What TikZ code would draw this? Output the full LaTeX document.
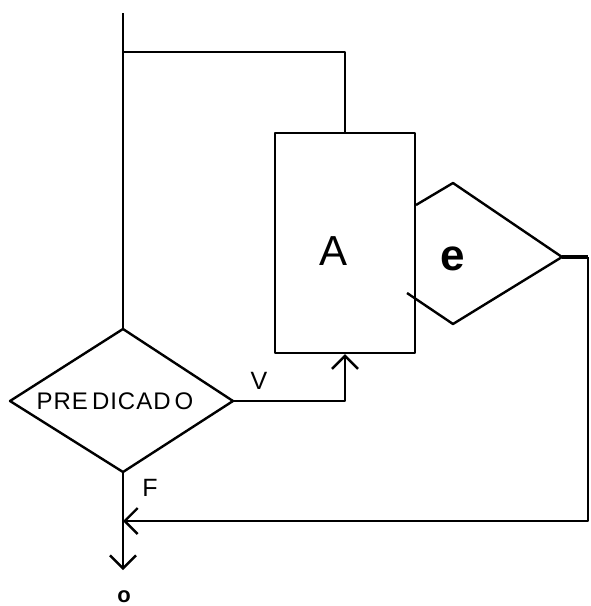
\documentclass[tikz,border=0pt]{standalone}
\usepackage{fontspec}
\setmainfont{Liberation Sans}
\usetikzlibrary{arrows.meta}
\tikzset{
  ln/.style={line width=2.4pt, line join=round},
  barb/.style={-{Straight Barb[length=13pt,width=26pt,line width=2.4pt]}},
  lbl/.style={inner sep=0pt, font=\fontsize{25}{26}\selectfont},
  procbox/.style={draw, ln, rectangle, minimum width=140pt, minimum height=220pt, inner sep=0pt}
}
\begin{document}
\begin{tikzpicture}[x=1pt,y=-1pt]
\useasboundingbox (0,0) rectangle (590,606);
% box A
\node[procbox] (boxA) at (345,243) {};
\node[lbl, font=\fontsize{42}{42}\selectfont] (labA) at (334,251) {A};
% predicate diamond
\coordinate (pT) at (123,329);
\coordinate (pL) at (10,401);
\coordinate (pR) at (233,401);
\coordinate (pB) at (123,472);
\draw[ln] (pT) -- (pR) -- (pB) -- (pL) -- cycle;
\node[lbl, font=\fontsize{24}{24}\selectfont] (pred) at (115,401) {P\kern1pt R\kern1pt E\kern4pt D\kern1pt I\kern1pt C\kern1pt A\kern1pt D\kern4pt O};
% partial diamond e
\coordinate (eA) at (416,205);
\coordinate (eT) at (453,183);
\coordinate (eR) at (562,257);
\coordinate (eB) at (453,324);
\coordinate (eC) at (407,293);
\draw[ln] (eA) -- (eT) -- (eR) -- (eB) -- (eC);
\node[lbl, font=\fontsize{44}{44}\selectfont\bfseries] (labE) at (453,259) {e};
% top loop
\coordinate (top) at (123,13);
\coordinate (topR) at (345,52);
\draw[ln] (top) -- (pT);
\draw[ln] (123,52) -- (topR) -- (boxA.north);
% V branch
\coordinate (vK) at (345,401);
\draw[ln, barb] (pR) -- (vK) -- (boxA.south);
\node[lbl] (labV) at (259,381) {V};
% return loop from e
\coordinate (rA) at (588,257);
\coordinate (rB) at (588,521);
\coordinate (rJ) at (123,521);
\draw[line width=4pt] (eR) -- (rA);
\draw[ln, barb] (rA) -- (rB) -- (rJ);
% F exit
\coordinate (outE) at (123,570);
\draw[ln, barb] (pB) -- (outE);
\node[lbl] (labF) at (150,488) {F};
\node[inner sep=0pt, font=\fontsize{22}{22}\selectfont\bfseries] (labO) at (124,597) {o};
\end{tikzpicture}
\end{document}
